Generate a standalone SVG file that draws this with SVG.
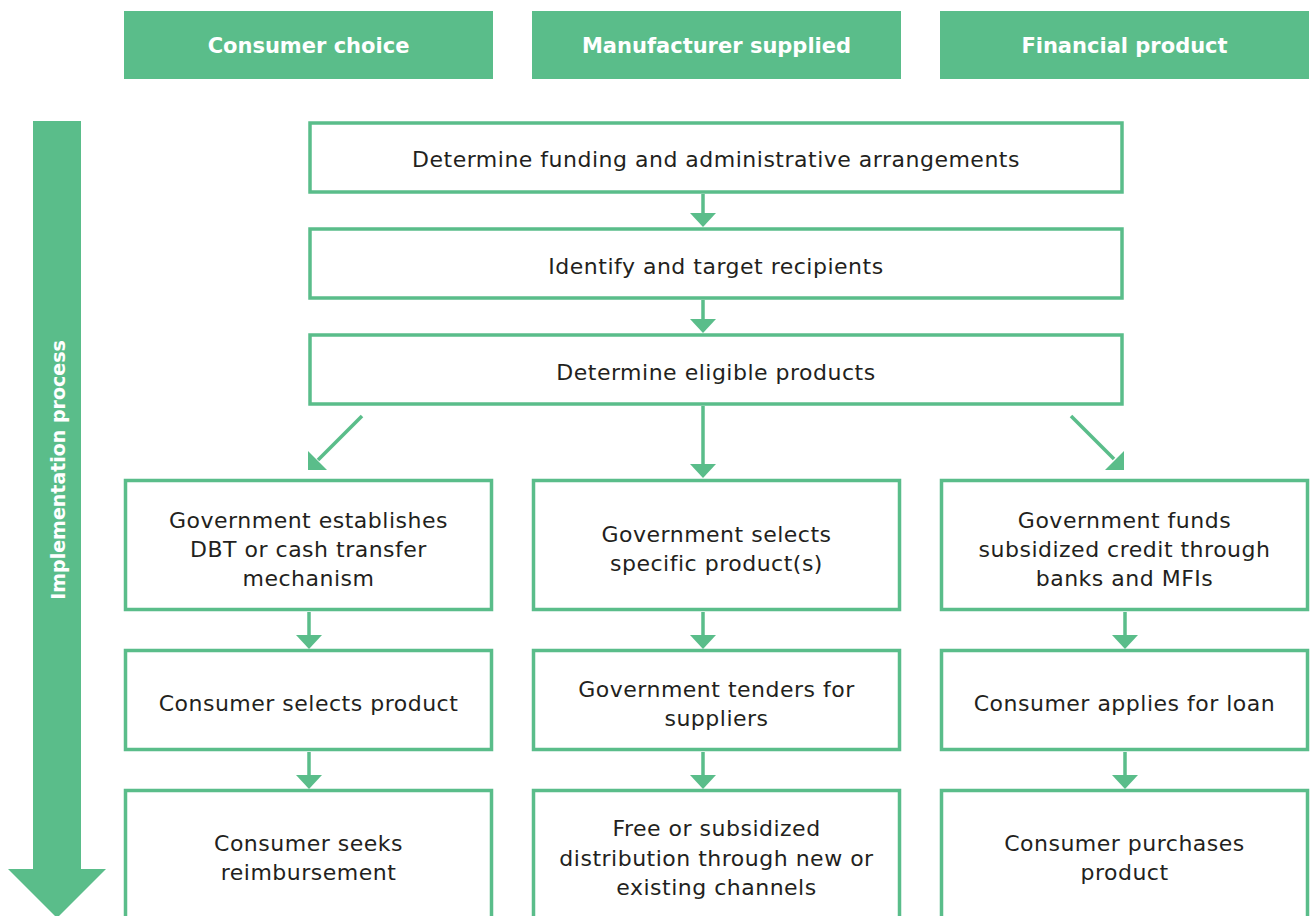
<svg xmlns="http://www.w3.org/2000/svg" width="1314" height="916" viewBox="0 0 1314 916">
<defs>
<style>
.hdr{fill:#5ABD8A}
.hdrt{font-family:"DejaVu Sans","Liberation Sans",sans-serif;font-weight:700;font-size:21px;fill:#fff;text-anchor:middle}
.box{fill:#fff;stroke:#5ABD8A;stroke-width:3.5}
.t{font-family:"DejaVu Sans","Liberation Sans",sans-serif;font-size:22px;letter-spacing:0.5px;fill:#231F20;text-anchor:middle}
.con{stroke:#5ABD8A;stroke-width:3.5;fill:none}
.head{fill:#5ABD8A}
</style>
</defs>
<rect width="1314" height="916" fill="#fff"/>
<g id="header-consumer"><rect class="hdr" x="124" y="11" width="369" height="68"/><text class="hdrt" x="308.5" y="53">Consumer choice</text></g>
<g id="header-manufacturer"><rect class="hdr" x="532" y="11" width="369" height="68"/><text class="hdrt" x="716.5" y="53">Manufacturer supplied</text></g>
<g id="header-financial"><rect class="hdr" x="940" y="11" width="369" height="68"/><text class="hdrt" x="1124.5" y="53">Financial product</text></g>
<g id="process-arrow">
<polygon class="head" points="33,121 81,121 81,869 106,869 57,918 8,869 33,869"/>
<text class="hdrt" style="font-size:19px" transform="translate(65,470) rotate(-90)">Implementation process</text>
</g>
<g id="connectors">
<line class="con" x1="703" y1="194" x2="703" y2="214"/><polygon class="head" points="690,213 716,213 703,227"/>
<line class="con" x1="703" y1="300" x2="703" y2="320"/><polygon class="head" points="690,319 716,319 703,333"/>
<line class="con" x1="703" y1="406" x2="703" y2="465"/><polygon class="head" points="690,464 716,464 703,478"/>
<line class="con" x1="362" y1="416" x2="318" y2="460"/><polygon class="head" points="308,470 308,451 327,470"/>
<line class="con" x1="1071" y1="416" x2="1114" y2="459"/><polygon class="head" points="1124,470 1124,451 1105,470"/>
<line class="con" x1="309" y1="612" x2="309" y2="636"/><polygon class="head" points="296,635 322,635 309,649"/>
<line class="con" x1="703" y1="612" x2="703" y2="636"/><polygon class="head" points="690,635 716,635 703,649"/>
<line class="con" x1="1125" y1="612" x2="1125" y2="636"/><polygon class="head" points="1112,635 1138,635 1125,649"/>
<line class="con" x1="309" y1="752" x2="309" y2="776"/><polygon class="head" points="296,775 322,775 309,789"/>
<line class="con" x1="703" y1="752" x2="703" y2="776"/><polygon class="head" points="690,775 716,775 703,789"/>
<line class="con" x1="1125" y1="752" x2="1125" y2="776"/><polygon class="head" points="1112,775 1138,775 1125,789"/>
</g>
<g id="n-funding"><rect class="box" x="310" y="123" width="812" height="69"/><text class="t" x="716" y="166.5">Determine funding and administrative arrangements</text></g>
<g id="n-identify"><rect class="box" x="310" y="229" width="812" height="69"/><text class="t" x="716" y="273.5">Identify and target recipients</text></g>
<g id="n-eligible"><rect class="box" x="310" y="335" width="812" height="69"/><text class="t" x="716" y="379.5">Determine eligible products</text></g>
<g id="n-dbt"><rect class="box" x="125.5" y="480.5" width="366" height="129"/><text class="t" x="308.5"><tspan x="308.5" y="527.5">Government establishes</tspan><tspan x="308.5" y="556.5">DBT or cash transfer</tspan><tspan x="308.5" y="585.5">mechanism</tspan></text></g>
<g id="n-selects-specific"><rect class="box" x="533.5" y="480.5" width="366" height="129"/><text class="t" x="716.5"><tspan x="716.5" y="541.5">Government selects</tspan><tspan x="716.5" y="570.5">specific product(s)</tspan></text></g>
<g id="n-credit"><rect class="box" x="941.5" y="480.5" width="366" height="129"/><text class="t" x="1124.5"><tspan x="1124.5" y="527.5">Government funds</tspan><tspan x="1124.5" y="556.5">subsidized credit through</tspan><tspan x="1124.5" y="585.5">banks and MFIs</tspan></text></g>
<g id="n-consumer-selects"><rect class="box" x="125.5" y="650.5" width="366" height="99"/><text class="t" x="308.5" y="710.5">Consumer selects product</text></g>
<g id="n-tenders"><rect class="box" x="533.5" y="650.5" width="366" height="99"/><text class="t" x="716.5"><tspan x="716.5" y="696.5">Government tenders for</tspan><tspan x="716.5" y="725.5">suppliers</tspan></text></g>
<g id="n-loan"><rect class="box" x="941.5" y="650.5" width="366" height="99"/><text class="t" x="1124.5" y="710.5">Consumer applies for loan</text></g>
<g id="n-reimburse"><rect class="box" x="125.5" y="790.5" width="366" height="140"/><text class="t" x="308.5"><tspan x="308.5" y="850.5">Consumer seeks</tspan><tspan x="308.5" y="879.5">reimbursement</tspan></text></g>
<g id="n-distribution"><rect class="box" x="533.5" y="790.5" width="366" height="140"/><text class="t" x="716.5"><tspan x="716.5" y="835.5">Free or subsidized</tspan><tspan x="716.5" y="865.5">distribution through new or</tspan><tspan x="716.5" y="894.5">existing channels</tspan></text></g>
<g id="n-purchase"><rect class="box" x="941.5" y="790.5" width="366" height="140"/><text class="t" x="1124.5"><tspan x="1124.5" y="850.5">Consumer purchases</tspan><tspan x="1124.5" y="879.5">product</tspan></text></g>
</svg>
